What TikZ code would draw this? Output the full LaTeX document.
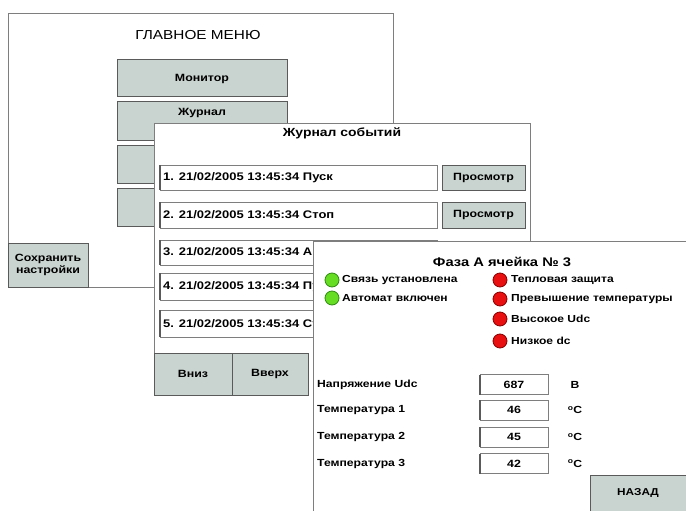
\documentclass[tikz,border=0pt]{standalone}
\usepackage{fontspec}
\setmainfont{Liberation Sans}[FakeStretch=1.18]
\definecolor{wingray}{HTML}{7E7E7E}
\definecolor{btnfill}{HTML}{C9D4D0}
\definecolor{btnedge}{HTML}{5A5A5A}
\definecolor{ledgreen}{HTML}{66DD22}
\definecolor{ledgreenD}{HTML}{2E8A10}
\definecolor{ledred}{HTML}{E81010}
\definecolor{ledredD}{HTML}{8A0000}
\tikzset{
  win/.style={draw=wingray, line width=0.9pt},
  btn/.style={draw=btnedge, fill=btnfill, line width=1pt, rectangle, inner sep=0pt, outer sep=0pt,
     font=\bfseries\fontsize{10.5}{12.5}\selectfont, align=center},
  fieldbox/.style={draw=wingray, fill=white, line width=0.8pt, rectangle, inner sep=0pt, outer sep=0pt},
  rowtext/.style={anchor=west, inner sep=0pt, font=\bfseries\fontsize{11}{12}\selectfont},
  ledtext/.style={anchor=west, inner sep=0pt, font=\bfseries\fontsize{10.2}{12}\selectfont},
  lbltext/.style={anchor=west, inner sep=0pt, font=\bfseries\fontsize{10.3}{12}\selectfont},
  ledG/.style={circle, draw=ledgreenD, fill=ledgreen, line width=0.8pt, minimum size=14pt, inner sep=0pt},
  ledR/.style={circle, draw=ledredD, fill=ledred, line width=0.8pt, minimum size=14pt, inner sep=0pt},
}
\begin{document}
\begin{tikzpicture}[x=1pt,y=-1pt]
\clip (0,0) rectangle (686,511);
\fill[white] (0,0) rectangle (686,511);
% ---------- Main menu window ----------
\coordinate (mmTL) at (8,13);
\coordinate (mmTR) at (393,13);
\coordinate (mmBR) at (393,287);
\coordinate (mmBL) at (8,287);
\fill[white] (mmTL) rectangle (mmBR);
\draw[win] (mmBR) -- (mmTR) -- (mmTL) -- (mmBL) -- cycle;
\node[font=\fontsize{13}{15}\selectfont, inner sep=0pt] (mmtitle) at (198,35) {ГЛАВНОЕ МЕНЮ};
\node[btn, minimum width=170pt, minimum height=37pt, anchor=north west] (bmon) at (117,60) {Монитор};
\node[btn, minimum width=170pt, minimum height=38pt, anchor=north west] (bjour) at (117,102) {};
\node[inner sep=0pt, font=\bfseries\fontsize{10.5}{12}\selectfont] (bjourt) at (202,113) {Журнал};
\node[btn, minimum width=170pt, minimum height=38pt, anchor=north west] (b3) at (117,145) {};
\node[btn, minimum width=170pt, minimum height=38pt, anchor=north west] (b4) at (117,188) {};
\node[btn, minimum width=80pt, minimum height=44pt, anchor=north west] (bsave) at (8,243) {Сохранить\\настройки};
% ---------- Journal window ----------
\coordinate (jTL) at (154,123);
\coordinate (jBR) at (530,395);
\fill[white] (jTL) rectangle (jBR);
\draw[win] (154,395) -- (jTL) -- (530,123) -- (jBR);
\node[font=\bfseries\fontsize{11.8}{13}\selectfont, inner sep=0pt] (jtitle) at (342,133) {Журнал событий};
% rows
\foreach \i/\yt/\yb/\txt in {1/165/190/{1. 21/02/2005 13:45:34 Пуск},
                            2/202/228/{2. 21/02/2005 13:45:34 Стоп},
                            3/240/265/{3. 21/02/2005 13:45:34 Авария},
                            4/273/300/{4. 21/02/2005 13:45:34 Пуск},
                            5/310/337/{5. 21/02/2005 13:45:34 Стоп}} {
  \node[fieldbox, minimum width=277pt, minimum height=\yb pt-\yt pt, anchor=north west] (row\i) at (160,\yt) {};
  \draw[btnedge, line width=1.2pt] (row\i.north west) -- (row\i.south west);
  \node[rowtext] (row\i t) at (163,{(\yt+\yb)/2}) {\txt};
}
\node[btn, minimum width=83pt, minimum height=25pt, anchor=north west] (v1) at (442,165) {Просмотр};
\node[btn, minimum width=83pt, minimum height=26pt, anchor=north west] (v2) at (442,202) {Просмотр};
\node[btn, minimum width=78pt, minimum height=42pt, anchor=north west] (bdown) at (154,353) {Вниз};
\node[btn, minimum width=76pt, minimum height=42pt, anchor=north west] (bup) at (232,353) {Вверх};
% ---------- Phase window ----------
\coordinate (pTL) at (313,241);
\fill[white] (pTL) rectangle (700,520);
\draw[win] (313,520) -- (pTL) -- (700,241);
\node[font=\bfseries\fontsize{12.5}{14}\selectfont, inner sep=0pt] (ptitle) at (502,262) {Фаза А ячейка № 3};
\node[ledG] (g1) at (332,280) {};
\node[ledG] (g2) at (332,298) {};
\node[ledtext] (g1t) at (342,280) {Связь установлена};
\node[ledtext] (g2t) at (342,298) {Автомат включен};
\node[ledR] (r1) at (500,280) {};
\node[ledR] (r2) at (500,299) {};
\node[ledR] (r3) at (500,319) {};
\node[ledR] (r4) at (500,341) {};
\node[ledtext] (r1t) at (511,280) {Тепловая защита};
\node[ledtext] (r2t) at (511,299) {Превышение температуры};
\node[ledtext] (r3t) at (511,319) {Высокое Udc};
\node[ledtext] (r4t) at (511,341) {Низкое dc};
% measurements
\foreach \i/\yc/\lab/\val/\unit in {1/384.5/{Напряжение Udc}/687/В,
                                  2/410/{Температура 1}/46/{\textsuperscript{o}C},
                                  3/437/{Температура 2}/45/{\textsuperscript{o}C},
                                  4/463.5/{Температура 3}/42/{\textsuperscript{o}C}} {
  \node[lbltext] (lab\i) at (317,\yc) {\lab};
  \node[fieldbox, minimum width=68pt, minimum height=20pt, font=\bfseries\fontsize{10.5}{12}\selectfont] (val\i) at (514,\yc) {\val};
  \draw[btnedge, line width=1.2pt] (val\i.north west) -- (val\i.south west);
  \node[lbltext, anchor=center] (unit\i) at (575,\yc) {\unit};
}
\node[btn, minimum width=110pt, minimum height=50pt, anchor=north west] (back) at (590,475) {};
\node[inner sep=0pt, font=\bfseries\fontsize{10}{12}\selectfont] (backt) at (638,493) {НАЗАД};
\end{tikzpicture}
\end{document}
